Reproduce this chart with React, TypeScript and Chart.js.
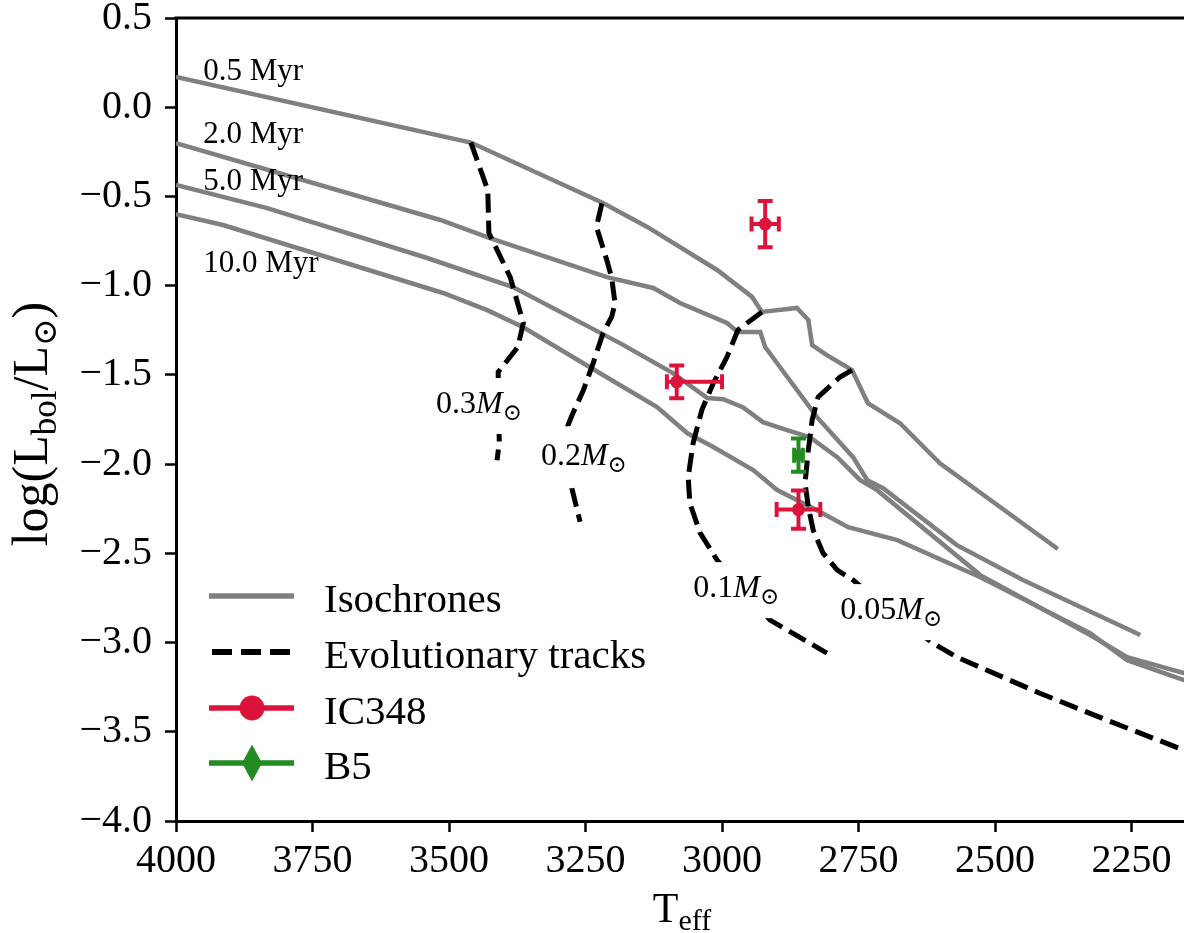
import React, { useEffect, useRef } from 'react';
import { Chart, registerables } from 'chart.js';

Chart.register(...registerables);

const SERIF = '"Liberation Serif", "DejaVu Serif", serif';
const GRAY = '#808080';
const CRIMSON = '#DC143C';
const GREEN = '#228B22';

// axes
const X_TICKS = [2250, 2500, 2750, 3000, 3250, 3500, 3750, 4000];
const Y_TICKS = [-4.0, -3.5, -3.0, -2.5, -2.0, -1.5, -1.0, -0.5, 0.0, 0.5];
const X_MIN = 2154;
const X_MAX = 4000;
const Y_MIN = -4.0;
const Y_MAX = 0.5;

// isochrones
const ISO_LABELS = ['0.5 Myr', '2.0 Myr', '5.0 Myr', '10.0 Myr'];
const ISO_LABEL_T = [3950, 3950, 3950, 3950];
const ISO_LABEL_L = [0.153, -0.201, -0.464, -0.924];

const ISO_05_T = [4000, 3460, 3218, 3137, 3009, 2945, 2927, 2863, 2842, 2835, 2808, 2762, 2733, 2674, 2601, 2385];
const ISO_05_L = [0.169, -0.198, -0.537, -0.671, -0.912, -1.063, -1.147, -1.125, -1.192, -1.333, -1.389, -1.473, -1.658, -1.771, -1.995, -2.476];

const ISO_20_T = [4000, 3516, 3425, 3211, 3126, 3077, 2991, 2971, 2930, 2921, 2894, 2826, 2760, 2734, 2705, 2570, 2449, 2234];
const ISO_20_L = [-0.201, -0.632, -0.734, -0.952, -1.013, -1.097, -1.209, -1.260, -1.260, -1.344, -1.456, -1.737, -1.961, -2.090, -2.135, -2.454, -2.650, -2.958];

const ISO_50_T = [4000, 3833, 3540, 3383, 3187, 3090, 3027, 2998, 2962, 2925, 2881, 2839, 2789, 2747, 2716, 2527, 2326, 2258, 2154, 2100];
const ISO_50_L = [-0.436, -0.565, -0.845, -1.008, -1.322, -1.490, -1.630, -1.636, -1.681, -1.765, -1.809, -1.849, -1.961, -2.090, -2.146, -2.622, -2.958, -3.082, -3.171, -3.216];

const ISO_100_T = [4000, 3914, 3511, 3430, 3364, 3242, 3119, 3064, 3016, 2943, 2899, 2826, 2769, 2679, 2527, 2326, 2258, 2154, 2100];
const ISO_100_L = [-0.599, -0.660, -1.041, -1.137, -1.233, -1.457, -1.680, -1.826, -1.904, -2.033, -2.145, -2.258, -2.353, -2.426, -2.634, -2.947, -3.099, -3.211, -3.260];

// evolutionary tracks
const TRACK_MASSES = ['0.3', '0.2', '0.1', '0.05'];
const TRACK_LABEL_T = [3445, 3253, 2974, 2690];
const TRACK_LABEL_L = [-1.652, -1.944, -2.684, -2.807];

const TR_03_T = [3460, 3429, 3427, 3388, 3364, 3374, 3410, 3408, 3412];
const TR_03_L = [-0.198, -0.465, -0.705, -0.952, -1.209, -1.344, -1.484, -1.877, -1.978];

const TR_02_T = [3220, 3230, 3211, 3202, 3196, 3202, 3218, 3236, 3254, 3273, 3282, 3275, 3260];
const TR_02_L = [-0.539, -0.670, -0.857, -0.958, -1.099, -1.174, -1.266, -1.434, -1.586, -1.714, -1.781, -2.136, -2.323];

const TR_01_T = [2927, 2954, 2971, 2991, 3016, 3037, 3053, 3062, 3059, 3040, 3009, 2912, 2808];
const TR_01_L = [-1.148, -1.209, -1.249, -1.400, -1.546, -1.697, -1.882, -2.073, -2.218, -2.387, -2.538, -2.874, -3.059];

const TR_005_T = [2762, 2784, 2824, 2835, 2842, 2848, 2842, 2833, 2815, 2789, 2760, 2683, 2614, 2570, 2418, 2295, 2154, 2100];
const TR_005_L = [-1.473, -1.512, -1.624, -1.753, -1.921, -2.106, -2.241, -2.370, -2.499, -2.594, -2.650, -2.847, -3.003, -3.082, -3.284, -3.435, -3.603, -3.668];

// observations
const IC348_T = [2921, 3083, 2860];
const IC348_L = [-0.655, -1.539, -2.255];
const IC348_T_ERR_HI = [25, 18, 40];
const IC348_T_ERR_LO = [25, 83, 40];
const IC348_L_ERR = [0.13, 0.092, 0.107];

const B5_T = [2860];
const B5_L = [-1.95];
const B5_T_ERR_HI = [8];
const B5_T_ERR_LO = [8];
const B5_L_ERR = [0.093];

const LEGEND_LABELS = ['Isochrones', 'Evolutionary tracks', 'IC348', 'B5'];

type Part = { t: string; size: number; italic?: boolean; dy?: number };

function fontOf(p: Part) {
  return `${p.italic ? 'italic ' : ''}${p.size}px ${SERIF}`;
}
function partsWidth(ctx: CanvasRenderingContext2D, parts: Part[]) {
  let w = 0;
  for (const p of parts) {
    ctx.font = fontOf(p);
    w += ctx.measureText(p.t).width;
  }
  return w;
}
function drawParts(ctx: CanvasRenderingContext2D, parts: Part[], x: number, y: number) {
  let cx = x;
  ctx.textAlign = 'left';
  ctx.textBaseline = 'alphabetic';
  for (const p of parts) {
    ctx.font = fontOf(p);
    ctx.fillText(p.t, cx, y + (p.dy || 0));
    cx += ctx.measureText(p.t).width;
  }
}

function pts(T: number[], L: number[]) {
  return T.map((t, i) => ({ x: t, y: L[i] }));
}

function drawErrorBars(chart: any, T: number[], L: number[], hi: number[], lo: number[], le: number[], color: string) {
  const { ctx } = chart;
  const xs = chart.scales.x;
  const ys = chart.scales.y;
  const cap = 7.5;
  ctx.save();
  ctx.strokeStyle = color;
  ctx.lineWidth = 4;
  ctx.lineCap = 'butt';
  for (let i = 0; i < T.length; i++) {
    const px = xs.getPixelForValue(T[i]);
    const py = ys.getPixelForValue(L[i]);
    const xa = xs.getPixelForValue(T[i] + hi[i]);
    const xb = xs.getPixelForValue(T[i] - lo[i]);
    const ya = ys.getPixelForValue(L[i] + le[i]);
    const yb = ys.getPixelForValue(L[i] - le[i]);
    ctx.beginPath();
    ctx.moveTo(xa, py); ctx.lineTo(xb, py);
    ctx.moveTo(px, ya); ctx.lineTo(px, yb);
    ctx.moveTo(xa, py - cap); ctx.lineTo(xa, py + cap);
    ctx.moveTo(xb, py - cap); ctx.lineTo(xb, py + cap);
    ctx.moveTo(px - cap, ya); ctx.lineTo(px + cap, ya);
    ctx.moveTo(px - cap, yb); ctx.lineTo(px + cap, yb);
    ctx.stroke();
  }
  ctx.restore();
}

function drawAnnotations(chart: any) {
  const { ctx } = chart;
  const xs = chart.scales.x;
  const ys = chart.scales.y;
  ctx.save();
  // isochrone labels
  ctx.fillStyle = '#000';
  ctx.font = `31px ${SERIF}`;
  ctx.textAlign = 'left';
  ctx.textBaseline = 'alphabetic';
  for (let i = 0; i < ISO_LABELS.length; i++) {
    ctx.fillText(ISO_LABELS[i], xs.getPixelForValue(ISO_LABEL_T[i]), ys.getPixelForValue(ISO_LABEL_L[i]));
  }
  // track labels with white boxes
  for (let i = 0; i < TRACK_MASSES.length; i++) {
    const parts: Part[] = [
      { t: TRACK_MASSES[i], size: 32 },
      { t: 'M', size: 32, italic: true },
      { t: '\u2299', size: 23, dy: 7 },
    ];
    const w = partsWidth(ctx, parts);
    const cx = xs.getPixelForValue(TRACK_LABEL_T[i]);
    const cy = ys.getPixelForValue(TRACK_LABEL_L[i]);
    const pad = 13;
    ctx.fillStyle = '#fff';
    ctx.fillRect(cx - w / 2 - pad, cy - 11 - pad, w + 2 * pad, 30 + 2 * pad);
    ctx.fillStyle = '#000';
    drawParts(ctx, parts, cx - w / 2, cy + 11);
  }
  ctx.restore();
}

export default function App() {
  const ref = useRef<HTMLCanvasElement>(null);

  useEffect(() => {
    const canvas = ref.current!;
    const diamond = document.createElement('canvas');
    diamond.width = 11;
    diamond.height = 17;
    const dctx = diamond.getContext('2d')!;
    dctx.fillStyle = GREEN;
    dctx.beginPath();
    dctx.moveTo(5.5, 0);
    dctx.lineTo(11, 8.5);
    dctx.lineTo(5.5, 17);
    dctx.lineTo(0, 8.5);
    dctx.closePath();
    dctx.fill();

    const overlay = {
      id: 'overlay',
      beforeDatasetDraw(chart: any, args: any) {
        const ds = chart.data.datasets[args.index];
        if (ds.label === 'IC348') {
          drawAnnotations(chart);
          drawErrorBars(chart, IC348_T, IC348_L, IC348_T_ERR_HI, IC348_T_ERR_LO, IC348_L_ERR, CRIMSON);
        } else if (ds.label === 'B5') {
          drawErrorBars(chart, B5_T, B5_L, B5_T_ERR_HI, B5_T_ERR_LO, B5_L_ERR, GREEN);
        }
      },
      afterDraw(chart: any) {
        const { ctx, chartArea } = chart;
        ctx.save();
        // top spine
        ctx.strokeStyle = '#000';
        ctx.lineWidth = 3;
        ctx.beginPath();
        ctx.moveTo(chartArea.left - 1.5, chartArea.top);
        ctx.lineTo(chartArea.right, chartArea.top);
        ctx.stroke();

        // axis titles
        ctx.fillStyle = '#000';
        const xParts: Part[] = [
          { t: 'T', size: 42 },
          { t: 'eff', size: 30, dy: 8 },
        ];
        const xw = partsWidth(ctx, xParts);
        drawParts(ctx, xParts, 682 - xw / 2, 922);

        const yParts: Part[] = [
          { t: 'log(L', size: 50 },
          { t: 'bol', size: 35, dy: 9 },
          { t: '/L', size: 50 },
          { t: '\u2299', size: 33, dy: 9 },
          { t: ')', size: 50 },
        ];
        const yw = partsWidth(ctx, yParts);
        ctx.save();
        ctx.translate(47, 424);
        ctx.rotate(-Math.PI / 2);
        drawParts(ctx, yParts, -yw / 2, 0);
        ctx.restore();

        // legend
        const lx0 = 209;
        const lx1 = 294;
        const mx = 252;
        const tx = 324;
        const rows = [596, 652, 708, 763];
        ctx.lineCap = 'butt';
        ctx.strokeStyle = GRAY;
        ctx.lineWidth = 5.5;
        ctx.setLineDash([]);
        ctx.beginPath(); ctx.moveTo(lx0, rows[0]); ctx.lineTo(lx1, rows[0]); ctx.stroke();
        ctx.strokeStyle = '#000';
        ctx.lineWidth = 6;
        ctx.setLineDash([20, 9]);
        ctx.beginPath(); ctx.moveTo(lx0 + 3, rows[1]); ctx.lineTo(lx1, rows[1]); ctx.stroke();
        ctx.setLineDash([]);
        ctx.strokeStyle = CRIMSON;
        ctx.lineWidth = 5.5;
        ctx.beginPath(); ctx.moveTo(lx0, rows[2]); ctx.lineTo(lx1, rows[2]); ctx.stroke();
        ctx.fillStyle = CRIMSON;
        ctx.beginPath(); ctx.arc(mx, rows[2], 12.5, 0, Math.PI * 2); ctx.fill();
        ctx.strokeStyle = GREEN;
        ctx.beginPath(); ctx.moveTo(lx0, rows[3]); ctx.lineTo(lx1, rows[3]); ctx.stroke();
        ctx.fillStyle = GREEN;
        ctx.beginPath();
        ctx.moveTo(mx, rows[3] - 18.5);
        ctx.lineTo(mx + 10, rows[3]);
        ctx.lineTo(mx, rows[3] + 18.5);
        ctx.lineTo(mx - 10, rows[3]);
        ctx.closePath();
        ctx.fill();

        ctx.fillStyle = '#000';
        ctx.font = `41px ${SERIF}`;
        ctx.textAlign = 'left';
        ctx.textBaseline = 'alphabetic';
        for (let i = 0; i < LEGEND_LABELS.length; i++) {
          ctx.fillText(LEGEND_LABELS[i], tx, rows[i] + 16);
        }
        ctx.restore();
      },
    };

    const isoStyle = { borderColor: GRAY, borderWidth: 4.5, pointRadius: 0, showLine: true, tension: 0, fill: false, order: 4 };
    const trStyle = { borderColor: '#000', borderWidth: 5, borderDash: [19, 8], pointRadius: 0, showLine: true, tension: 0, fill: false, order: 3 };

    const chart = new Chart(canvas, {
      type: 'scatter',
      data: {
        datasets: [
          { label: 'iso0.5', data: pts(ISO_05_T, ISO_05_L), ...isoStyle },
          { label: 'iso2.0', data: pts(ISO_20_T, ISO_20_L), ...isoStyle },
          { label: 'iso5.0', data: pts(ISO_50_T, ISO_50_L), ...isoStyle },
          { label: 'iso10.0', data: pts(ISO_100_T, ISO_100_L), ...isoStyle },
          { label: 'tr0.3', data: pts(TR_03_T, TR_03_L), ...trStyle },
          { label: 'tr0.2', data: pts(TR_02_T, TR_02_L), ...trStyle },
          { label: 'tr0.1', data: pts(TR_01_T, TR_01_L), ...trStyle },
          { label: 'tr0.05', data: pts(TR_005_T, TR_005_L), ...trStyle },
          {
            label: 'IC348', data: pts(IC348_T, IC348_L), pointStyle: 'circle', pointRadius: 6.5,
            backgroundColor: CRIMSON, borderColor: CRIMSON, borderWidth: 0, showLine: false, order: 2,
          },
          {
            label: 'B5', data: pts(B5_T, B5_L), pointStyle: diamond, pointRadius: 8,
            backgroundColor: GREEN, borderColor: GREEN, borderWidth: 0, showLine: false, order: 1,
          },
        ] as any,
      },
      plugins: [overlay],
      options: {
        animation: false,
        responsive: false,
        devicePixelRatio: 1,
        events: [],
        layout: { autoPadding: false, padding: { top: 18, left: 0, right: 0, bottom: 0 } },
        plugins: { legend: { display: false }, tooltip: { enabled: false } },
        scales: {
          x: {
            type: 'linear',
            reverse: true,
            min: X_MIN,
            max: X_MAX,
            afterBuildTicks: (s: any) => { s.ticks = X_TICKS.map((v) => ({ value: v })); },
            afterFit: (s: any) => { s.height = 112; s.paddingLeft = 0; s.paddingRight = 0; },
            ticks: {
              font: { family: SERIF, size: 40 },
              color: '#000',
              padding: 5,
              maxRotation: 0,
              minRotation: 0,
              autoSkip: false,
              callback: (v: any) => String(v),
            },
            grid: { drawOnChartArea: false, drawTicks: true, tickLength: 11, tickWidth: 2.5, tickColor: '#000' },
            border: { display: true, color: '#000', width: 3 },
          },
          y: {
            type: 'linear',
            min: Y_MIN,
            max: Y_MAX,
            afterBuildTicks: (s: any) => { s.ticks = Y_TICKS.map((v) => ({ value: v })); },
            afterFit: (s: any) => { s.width = 176; s.paddingTop = 0; s.paddingBottom = 0; },
            ticks: {
              font: { family: SERIF, size: 40 },
              color: '#000',
              padding: 13,
              autoSkip: false,
              callback: (v: any) => (Number(v) < 0 ? '\u2212' : '') + Math.abs(Number(v)).toFixed(1),
            },
            grid: { drawOnChartArea: false, drawTicks: true, tickLength: 11, tickWidth: 2.5, tickColor: '#000' },
            border: { display: true, color: '#000', width: 3 },
          },
        },
      } as any,
    });
    return () => chart.destroy();
  }, []);

  return (
    <div style={{ position: 'fixed', left: 0, top: 0, width: 1184, height: 933, background: '#fff' }}>
      <canvas ref={ref} width={1184} height={933} style={{ display: 'block', width: 1184, height: 933 }} />
    </div>
  );
}
